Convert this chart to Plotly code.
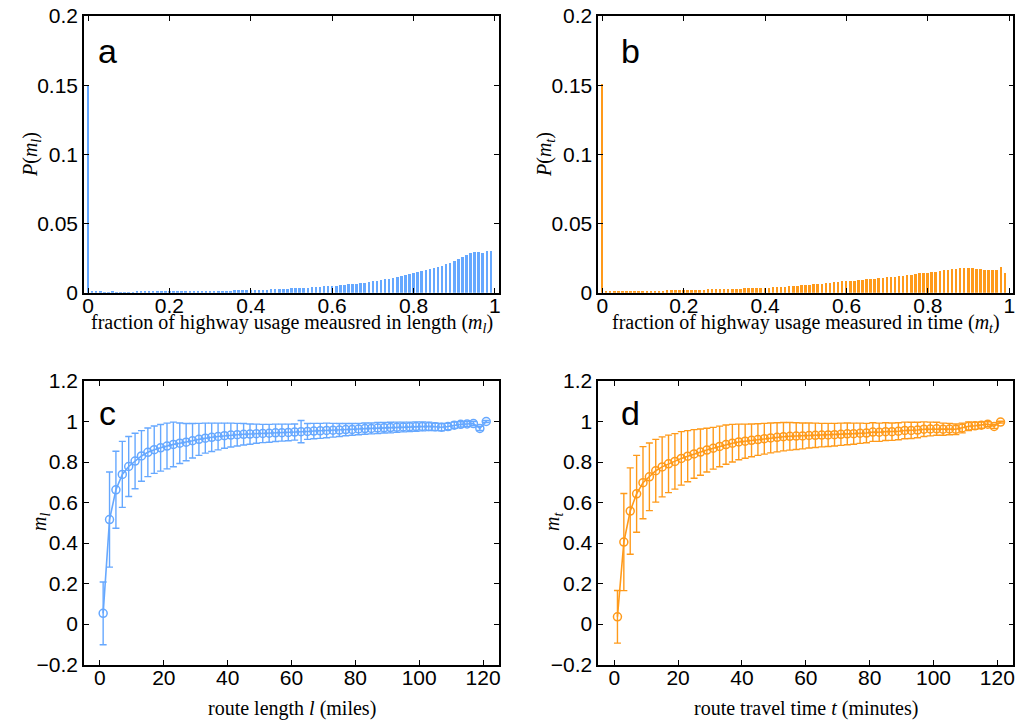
import numpy as np
import plotly.graph_objects as go

# ---------------- data ----------------
# histogram bins (positions), width 0.01
bins = [round(k * 0.01, 2) for k in range(100)]

p_ml = [0.150,
        0.0006, 0.0006, 0.0006, 0.0005, 0.0005, 0.0006, 0.0005, 0.0005, 0.0005,
        0.0005, 0.0005, 0.0006, 0.0006, 0.0006, 0.0006, 0.0007, 0.0007, 0.0007, 0.0008,
        0.0008, 0.0009, 0.0009, 0.0010, 0.0010, 0.0011, 0.0011, 0.0011, 0.0012, 0.0012,
        0.0012, 0.0013, 0.0013, 0.0014, 0.0014, 0.0015, 0.0016, 0.0017, 0.0017, 0.0018,
        0.0019, 0.0020, 0.0021, 0.0022, 0.0023, 0.0024, 0.0026, 0.0027, 0.0028, 0.0030,
        0.0031, 0.0033, 0.0034, 0.0036, 0.0037, 0.0039, 0.0041, 0.0043, 0.0046, 0.0048,
        0.0050, 0.0052, 0.0055, 0.0057, 0.0060, 0.0063, 0.0066, 0.0069, 0.0073, 0.0077,
        0.0081, 0.0086, 0.0091, 0.0096, 0.0101, 0.0107, 0.0113, 0.0120, 0.0127, 0.0134,
        0.0141, 0.0148, 0.0155, 0.0162, 0.0170, 0.0178, 0.0187, 0.0196, 0.0206, 0.0217,
        0.0230, 0.0245, 0.0260, 0.0275, 0.0288, 0.0295, 0.0293, 0.0290, 0.0300, 0.0302]

p_mt = [0.151,
        0.0010, 0.0009, 0.0008, 0.0008, 0.0009, 0.0009, 0.0010, 0.0010, 0.0011,
        0.0012, 0.0014, 0.0013, 0.0014, 0.0015, 0.0015, 0.0016, 0.0017, 0.0017, 0.0018,
        0.0022, 0.0021, 0.0020, 0.0021, 0.0022, 0.0023, 0.0024, 0.0025, 0.0026, 0.0025,
        0.0027, 0.0028, 0.0029, 0.0030, 0.0030, 0.0031, 0.0032, 0.0033, 0.0034, 0.0036,
        0.0036, 0.0037, 0.0038, 0.0039, 0.0041, 0.0043, 0.0045, 0.0048, 0.0050, 0.0053,
        0.0056, 0.0059, 0.0061, 0.0064, 0.0066, 0.0069, 0.0072, 0.0075, 0.0078, 0.0081,
        0.0083, 0.0086, 0.0088, 0.0090, 0.0093, 0.0096, 0.0098, 0.0101, 0.0104, 0.0106,
        0.0110, 0.0113, 0.0116, 0.0120, 0.0123, 0.0127, 0.0131, 0.0135, 0.0139, 0.0142,
        0.0145, 0.0148, 0.0152, 0.0156, 0.0161, 0.0165, 0.0169, 0.0172, 0.0176, 0.0178,
        0.0177, 0.0175, 0.0172, 0.0169, 0.0167, 0.0165, 0.0163, 0.0164, 0.0184, 0.0145]

route_x = list(range(1, 122, 2))

ml_mean = [0.053, 0.516, 0.663, 0.739, 0.778, 0.805, 0.830, 0.848, 0.861, 0.870,
           0.879, 0.887, 0.893, 0.898, 0.905, 0.912, 0.918, 0.922, 0.926, 0.930,
           0.933, 0.935, 0.937, 0.938, 0.940, 0.941, 0.942, 0.944, 0.945, 0.946,
           0.948, 0.950, 0.951, 0.953, 0.954, 0.956, 0.957, 0.958, 0.960, 0.961,
           0.963, 0.965, 0.966, 0.968, 0.969, 0.970, 0.972, 0.973, 0.974, 0.975,
           0.976, 0.976, 0.974, 0.972, 0.975, 0.982, 0.986, 0.988, 0.990, 0.966,
           1.000]
ml_err = [0.155, 0.235, 0.190, 0.163, 0.148, 0.137, 0.125, 0.120, 0.117, 0.115,
          0.113, 0.110, 0.100, 0.092, 0.085, 0.079, 0.074, 0.070, 0.066, 0.062,
          0.059, 0.056, 0.053, 0.050, 0.047, 0.045, 0.044, 0.043, 0.042, 0.041,
          0.040, 0.055, 0.039, 0.038, 0.037, 0.036, 0.034, 0.032, 0.030, 0.029,
          0.028, 0.028, 0.027, 0.027, 0.026, 0.026, 0.025, 0.024, 0.023, 0.023,
          0.022, 0.021, 0.019, 0.018, 0.016, 0.015, 0.013, 0.012, 0.010, 0.010,
          0.005]

mt_mean = [0.036, 0.405, 0.558, 0.643, 0.698, 0.727, 0.757, 0.776, 0.791, 0.803,
           0.818, 0.829, 0.840, 0.849, 0.859, 0.868, 0.877, 0.886, 0.893, 0.899,
           0.903, 0.907, 0.911, 0.915, 0.919, 0.922, 0.925, 0.927, 0.928, 0.929,
           0.931, 0.932, 0.933, 0.934, 0.935, 0.937, 0.939, 0.940, 0.942, 0.943,
           0.948, 0.947, 0.950, 0.950, 0.952, 0.956, 0.956, 0.958, 0.962, 0.963,
           0.964, 0.962, 0.963, 0.962, 0.968, 0.977, 0.979, 0.982, 0.987, 0.976,
           0.997]
mt_err = [0.130, 0.240, 0.213, 0.190, 0.178, 0.167, 0.155, 0.148, 0.142, 0.137,
          0.132, 0.126, 0.120, 0.114, 0.108, 0.103, 0.100, 0.097, 0.093, 0.088,
          0.084, 0.081, 0.078, 0.076, 0.074, 0.072, 0.070, 0.068, 0.066, 0.064,
          0.062, 0.060, 0.058, 0.057, 0.056, 0.055, 0.054, 0.052, 0.050, 0.048,
          0.046, 0.045, 0.044, 0.043, 0.042, 0.041, 0.040, 0.038, 0.036, 0.034,
          0.032, 0.030, 0.028, 0.026, 0.024, 0.021, 0.018, 0.015, 0.012, 0.010,
          0.004]

BLUE = "#66a8ff"
ORANGE = "#ff9a1a"

W, H = 1036, 723
OFF = 8  # page offset of the figure inside the browser window

def px(xp):
    return (xp - OFF) / W

def py(yp):
    return 1 - (yp - OFF) / H

fig = go.Figure()

fig.add_trace(go.Bar(x=bins, y=p_ml, width=0.0062, marker=dict(color=BLUE, line=dict(width=0)),
                     xaxis="x", yaxis="y", showlegend=False))
fig.add_trace(go.Bar(x=bins, y=p_mt, width=0.0062, marker=dict(color=ORANGE, line=dict(width=0)),
                     xaxis="x2", yaxis="y2", showlegend=False))

fig.add_trace(go.Scatter(x=route_x, y=ml_mean, mode="lines+markers",
                         line=dict(color=BLUE, width=1.6),
                         marker=dict(symbol="circle-open", size=8, color=BLUE, line=dict(width=1.5)),
                         error_y=dict(type="data", array=ml_err, visible=True, color=BLUE,
                                      thickness=1.4, width=3.5),
                         xaxis="x3", yaxis="y3", showlegend=False))
fig.add_trace(go.Scatter(x=route_x, y=mt_mean, mode="lines+markers",
                         line=dict(color=ORANGE, width=1.6),
                         marker=dict(symbol="circle-open", size=8, color=ORANGE, line=dict(width=1.5)),
                         error_y=dict(type="data", array=mt_err, visible=True, color=ORANGE,
                                      thickness=1.4, width=3.5),
                         xaxis="x4", yaxis="y4", showlegend=False))

tickfont = dict(family="Liberation Sans, Arial, sans-serif", size=21, color="black")
axcommon = dict(showline=True, linecolor="black", linewidth=1.6, mirror="ticks",
                ticks="inside", ticklen=5, tickwidth=1.2, tickcolor="black",
                showgrid=False, zeroline=False, tickfont=tickfont, automargin=False,
                ticklabeloverflow="allow")
xcommon = dict(axcommon, ticklabelstandoff=-7)

top_y = [py(292.7), py(16)]
bot_y = [py(664.6), py(381)]
left_x = [px(84), px(499)]
right_x = [px(598.3), px(1013.3)]

fig.update_layout(
    width=W, height=H,
    margin=dict(l=0, r=0, t=0, b=0, autoexpand=False),
    paper_bgcolor="white", plot_bgcolor="white",
    bargap=0,
    xaxis=dict(domain=left_x, range=[-0.01, 1.01], tickvals=[0, 0.2, 0.4, 0.6, 0.8, 1],
               ticktext=["0", "0.2", "0.4", "0.6", "0.8", "1"], anchor="y", **xcommon),
    yaxis=dict(domain=top_y, range=[0, 0.2], tickvals=[0, 0.05, 0.1, 0.15, 0.2],
               ticktext=["0", "0.05", "0.1", "0.15", "0.2"], anchor="x", **axcommon),
    xaxis2=dict(domain=right_x, range=[-0.01, 1.01], tickvals=[0, 0.2, 0.4, 0.6, 0.8, 1],
                ticktext=["0", "0.2", "0.4", "0.6", "0.8", "1"], anchor="y2", **xcommon),
    yaxis2=dict(domain=top_y, range=[0, 0.2], tickvals=[0, 0.05, 0.1, 0.15, 0.2],
                ticktext=["0", "0.05", "0.1", "0.15", "0.2"], anchor="x2", **axcommon),
    xaxis3=dict(domain=left_x, range=[-5, 125], tickvals=[0, 20, 40, 60, 80, 100, 120],
                anchor="y3", **xcommon),
    yaxis3=dict(domain=bot_y, range=[-0.2, 1.2], tickvals=[-0.2, 0, 0.2, 0.4, 0.6, 0.8, 1, 1.2],
                ticktext=["\u22120.2", "0", "0.2", "0.4", "0.6", "0.8", "1", "1.2"],
                anchor="x3", **axcommon),
    xaxis4=dict(domain=right_x, range=[-5, 125], tickvals=[0, 20, 40, 60, 80, 100, 120],
                anchor="y4", **xcommon),
    yaxis4=dict(domain=bot_y, range=[-0.2, 1.2], tickvals=[-0.2, 0, 0.2, 0.4, 0.6, 0.8, 1, 1.2],
                ticktext=["\u22120.2", "0", "0.2", "0.4", "0.6", "0.8", "1", "1.2"],
                anchor="x4", **axcommon),
)

serif = dict(family="Liberation Serif, Times New Roman, serif", size=20, color="black")
letterfont = dict(family="Liberation Sans, Arial, sans-serif", size=34, color="black")

ann = []
def add_text(text, xp, yp, font, angle=0):
    ann.append(dict(text=text, x=px(xp), y=py(yp), xref="paper", yref="paper",
                    showarrow=False, font=font, textangle=angle,
                    xanchor="center", yanchor="middle"))

add_text("fraction of highway usage meausred in length (<i>m</i><sub><i>l</i></sub>)", 292, 323, serif)
add_text("fraction of highway usage measured in time (<i>m</i><sub><i>t</i></sub>)", 806, 323, serif)
add_text("route length <i>l</i> (miles)", 292, 708, serif)
add_text("route travel time <i>t</i> (minutes)", 806, 708, serif)
add_text("<i>P</i>(<i>m</i><sub><i>l</i></sub>)", 32, 155, serif, -90)
add_text("<i>P</i>(<i>m</i><sub><i>t</i></sub>)", 546, 155, serif, -90)
add_text("<i>m</i><sub><i>l</i></sub>", 40, 522, serif, -90)
add_text("<i>m</i><sub><i>t</i></sub>", 553, 522, serif, -90)
add_text("a", 107, 51, letterfont)
add_text("b", 630, 51, letterfont)
add_text("c", 107, 413, letterfont)
add_text("d", 630, 413, letterfont)

fig.update_layout(annotations=ann)

fig.write_html("out.html")
